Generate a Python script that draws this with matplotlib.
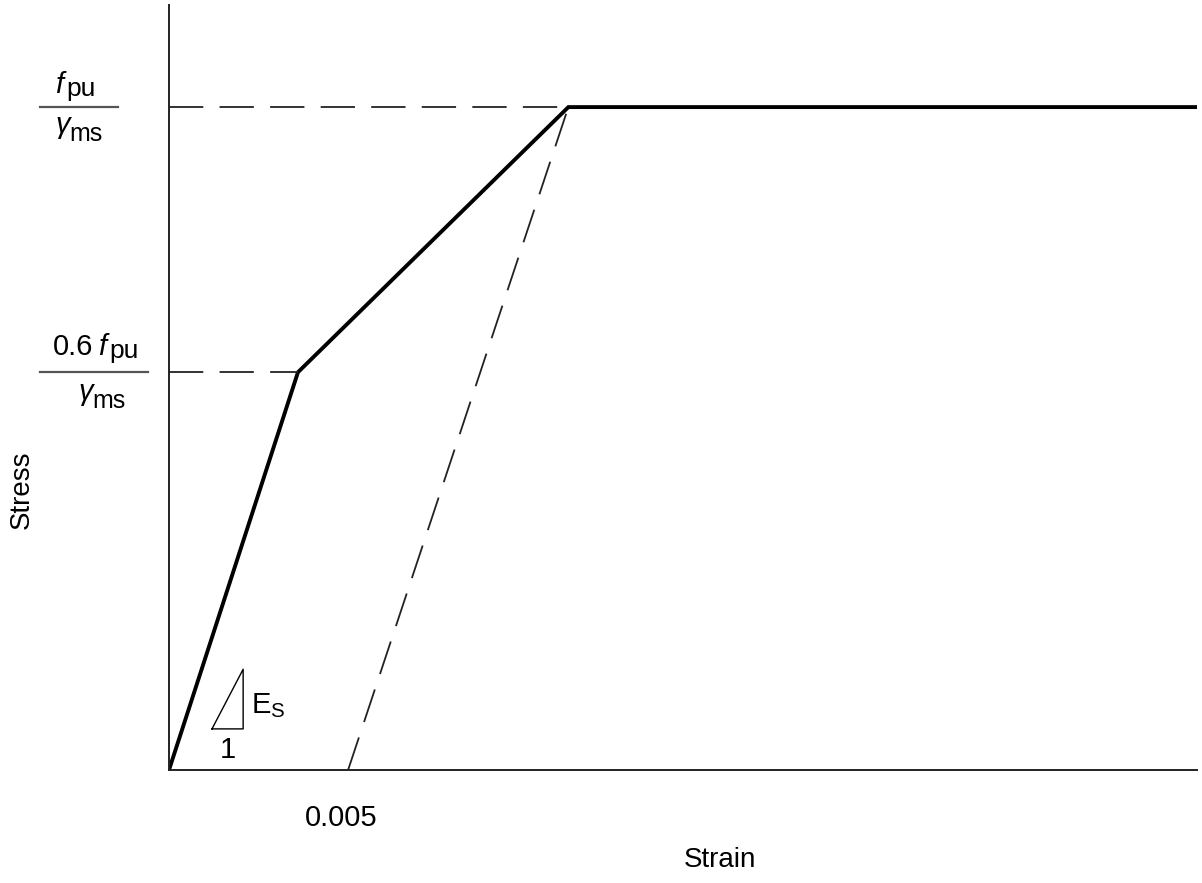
import matplotlib
matplotlib.use("Agg")
import matplotlib.pyplot as plt

plt.rcParams["font.family"] = "Liberation Sans"
plt.rcParams["mathtext.fontset"] = "custom"
plt.rcParams["mathtext.rm"] = "Liberation Sans"
plt.rcParams["mathtext.it"] = "Liberation Sans:italic"
plt.rcParams["mathtext.sf"] = "Liberation Sans"

# stress-strain curve (stress normalised by fpu/gamma_ms)
strain = [0.0, 0.0036, 0.01115, 0.0287]
stress = [0.0, 0.6, 1.0, 1.0]

# offset line through 0.005 strain
offset_strain = [0.005, 0.01115]
offset_stress = [0.0, 1.0]

# little slope triangle
tri_x = [0.0012, 0.00207, 0.00207, 0.0012]
tri_y = [0.062, 0.062, 0.152, 0.062]

fig = plt.figure(figsize=(12.02, 8.83), dpi=100)
ax = fig.add_axes([169/1202, 113/883, 1028/1202, 765/883])
ax.set_xlim(0, 0.0287)
ax.set_ylim(0, 1.154)

for s in ["top", "right"]:
    ax.spines[s].set_visible(False)
for s in ["left", "bottom"]:
    ax.spines[s].set_linewidth(1.4)
    ax.spines[s].set_color("#222222")
ax.set_xticks([])
ax.set_yticks([])

dash = (0, (19, 9))
ax.plot(strain, stress, color="black", lw=2.8, solid_joinstyle="miter")
ax.plot(offset_strain, offset_stress, color="#222222", lw=1.3, linestyle=dash)
ax.plot([0, strain[1]], [stress[1], stress[1]], color="#222222", lw=1.3, linestyle=dash)
ax.plot([0, strain[2]], [stress[2], stress[2]], color="#222222", lw=1.3, linestyle=dash)
ax.plot(tri_x, tri_y, color="black", lw=1.0)

ax.text(0.00228, 0.097, r"$\mathrm{E}_{\mathrm{S}}$", fontsize=21, va="center", ha="left")
ax.text(0.00163, 0.03, "1", fontsize=21, va="center", ha="center")

ax.annotate("0.005", xy=(0.005, 0), xytext=(-7, -48), textcoords="offset pixels",
            ha="center", va="center", fontsize=21)

yt = ax.get_yaxis_transform()


def chain(parts, x0, level, dy):
    # parts: (text, size, style, baseline shift, gap before)
    prev = None
    for txt, size, style, sub, gap in parts:
        if prev is None:
            prev = ax.annotate(txt, xy=(x0, level), xycoords=yt, xytext=(gap, dy + sub),
                               textcoords="offset pixels", ha="left", va="baseline",
                               fontsize=size, style=style, annotation_clip=False)
        else:
            prev = ax.annotate(txt, xy=(1, level), xycoords=(prev, "data"), xytext=(gap, dy + sub),
                               textcoords="offset pixels", ha="left", va="baseline",
                               fontsize=size, style=style, annotation_clip=False)


# y-axis fraction labels
ax.plot([-0.1255, -0.0496], [1.0, 1.0], color="#555555", lw=1.6, transform=yt, clip_on=False)
chain([("f", 21, "italic", 0, 0), ("pu", 19, "normal", -3, 3)], -0.1109, 1.0, 14)
chain([("γ", 21, "italic", 0, 0), ("ms", 18, "normal", -8, 0)], -0.1109, 1.0, -26)

ax.plot([-0.1255, -0.0204], [0.6, 0.6], color="#555555", lw=1.6, transform=yt, clip_on=False)
chain([("0.6", 21, "normal", 0, 0), ("f", 21, "italic", 0, 5), ("pu", 19, "normal", -3, 3)],
      -0.1128, 0.6, 17)
chain([("γ", 21, "italic", 0, 0), ("ms", 18, "normal", -8, 0)], -0.0885, 0.6, -28)

fig.text(22/1202, 1 - 490/883, "Stress", rotation=90, ha="center", va="center", fontsize=20)
fig.text(720/1202, 1 - 860/883, "Strain", ha="center", va="center", fontsize=20)

fig.savefig("out.png", dpi=100)
